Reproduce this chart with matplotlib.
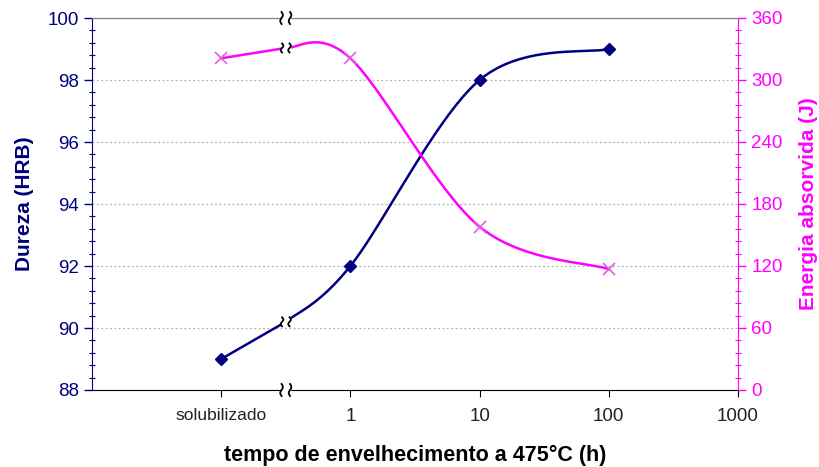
import numpy as np
import matplotlib.pyplot as plt
from matplotlib.transforms import ScaledTranslation

plt.rcParams['font.family'] = ['Liberation Sans', 'DejaVu Sans']

# category axis: 0 = empty left edge, 1 = solubilizado, 2.. = 1, 10, 100, 1000 h
tick_labels = ['solubilizado', '1', '10', '100', '1000']
tick_pos = [1, 2, 3, 4, 5]
break_x = 1.5

pos = [1, 2, 3, 4]
dureza = [89.0, 92.0, 98.0, 99.0]
energia = [321, 321, 158, 117]
# line values where the axis break cuts the curves
break_dureza = 90.2
break_energia = 331

NAVY = '#000080'
MAGENTA = '#ff00ff'


def smooth(xs, ys, n=40):
    # Excel-style smoothed line (Bezier through the points)
    P = np.column_stack([np.asarray(xs, float), np.asarray(ys, float)])
    out = []
    for i in range(len(P) - 1):
        p0 = P[i - 1] if i > 0 else P[i]
        p1, p2 = P[i], P[i + 1]
        p3 = P[i + 2] if i + 2 < len(P) else P[i + 1]
        c1 = p1 + (p2 - p0) / 6
        c2 = p2 - (p3 - p1) / 6
        t = np.linspace(0, 1, n)[:, None]
        seg = (1 - t) ** 3 * p1 + 3 * (1 - t) ** 2 * t * c1 + 3 * (1 - t) * t ** 2 * c2 + t ** 3 * p2
        out.append(seg if i == 0 else seg[1:])
    out = np.vstack(out)
    return out[:, 0], out[:, 1]


fig = plt.figure(figsize=(8.19, 4.67), dpi=100)
ax = fig.add_axes([92 / 819, 1 - 390 / 467, (738 - 92) / 819, (390 - 18) / 467])
ax2 = ax.twinx()

ax.set_xlim(0, 5)
ax.set_ylim(88, 100)
ax2.set_ylim(0, 360)

ax.set_yticks(np.arange(88, 100.1, 2))
ax.set_yticks(np.arange(88, 100.01, 0.4), minor=True)
ax2.set_yticks(np.arange(0, 361, 60))
ax2.set_yticks(np.arange(0, 361, 12), minor=True)
ax.set_xticks(tick_pos)
ax.set_xticklabels(tick_labels)

ax.grid(axis='y', which='major', color='#b0b0b0', linestyle=(0, (1.5, 2)), linewidth=0.9)
ax.set_axisbelow(True)

ax.tick_params(axis='y', which='major', direction='out', length=6, colors=NAVY, labelsize=13.5, width=1)
ax.tick_params(axis='y', which='minor', direction='inout', length=4, color=NAVY, width=0.8)
ax.tick_params(axis='x', which='major', direction='out', length=5, color='black', labelsize=13.5,
               labelcolor='#222222', pad=8)
ax.get_xticklabels()[0].set_fontsize(12.5)
ax2.tick_params(axis='y', which='major', direction='out', length=6, colors=MAGENTA, labelsize=13.5, width=1)
ax2.tick_params(axis='y', which='minor', direction='inout', length=4, color=MAGENTA, width=0.8)

ax.spines['left'].set_color(NAVY)
ax.spines['bottom'].set_color('black')
ax.spines['top'].set_color('#808080')
ax2.spines['right'].set_color(MAGENTA)
ax2.spines['left'].set_visible(False)
ax2.spines['top'].set_color('#808080')
ax2.spines['bottom'].set_visible(False)
ax.spines['right'].set_visible(False)

# curves: one piece up to the axis break, one piece after it
xa, ya = smooth([pos[0], break_x], [dureza[0], break_dureza])
xb, yb = smooth([break_x] + pos[1:], [break_dureza] + dureza[1:])
ax.plot(np.r_[xa, xb], np.r_[ya, yb], color=NAVY, lw=1.8, zorder=3)
ax.plot(pos, dureza, linestyle='none', marker='D', color=NAVY, ms=6, zorder=4)

xa, ya = smooth([pos[0], break_x], [energia[0], break_energia])
xb, yb = smooth([break_x] + pos[1:], [break_energia] + energia[1:])
ax2.plot(np.r_[xa, xb], np.r_[ya, yb], color=MAGENTA, lw=1.8, zorder=3)
ax2.plot(pos, energia, linestyle='none', marker='x', color='#e060e0', ms=9, mew=1.2, zorder=4)

ax.set_ylabel('Dureza (HRB)', color=NAVY, fontsize=15, fontweight='bold', labelpad=10)
ax2.set_ylabel('Energia absorvida (J)', color=MAGENTA, fontsize=15, fontweight='bold', labelpad=12)
ax.set_xlabel('tempo de envelhecimento a 475°C (h)', fontsize=15.5, fontweight='bold', labelpad=14)


def break_mark(axis, x, y, h=0.06, gap=0.085, color='black'):
    tr = fig.dpi_scale_trans + ScaledTranslation(x, y, axis.transData)
    axis.fill([-gap / 2, gap / 2, gap / 2, -gap / 2], [-h, -h, h, h], color='white',
              transform=tr, zorder=6, clip_on=False)
    t = np.linspace(-1, 1, 30)
    for dx in (-gap / 2, gap / 2):
        axis.plot(dx + 0.013 * np.sin(np.pi * t), h * t, color=color, lw=1.3,
                  transform=tr, zorder=7, clip_on=False)


break_mark(ax2, break_x, 0)
break_mark(ax2, break_x, 360)
break_mark(ax, break_x, break_dureza, h=0.045, gap=0.075)
break_mark(ax2, break_x, break_energia, h=0.045, gap=0.075)

fig.savefig('out.png', dpi=100)
